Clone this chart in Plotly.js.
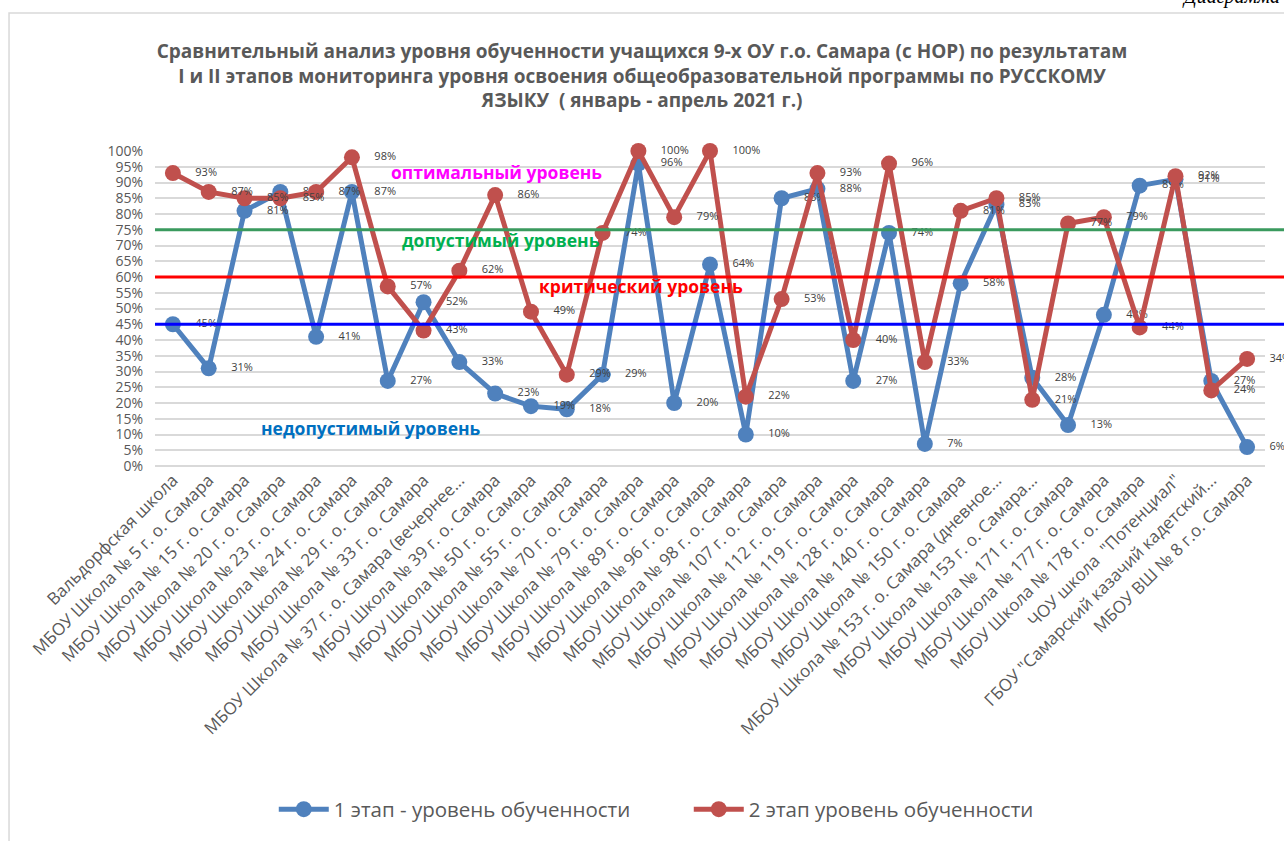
<!DOCTYPE html>
<html>
<head>
<meta charset="utf-8">
<script src="https://cdn.plot.ly/plotly-3.0.1.min.js"></script>
<style>
  html, body { margin: 0; padding: 0; background: #fff; }
  #chart { width: 1284px; height: 841px; }
</style>
</head>
<body>
<div id="chart"></div>
<script>
const categories = [
  "Вальдорфская школа",
  "МБОУ Школа № 5 г. о. Самара",
  "МБОУ Школа № 15 г. о. Самара",
  "МБОУ Школа № 20 г. о. Самара",
  "МБОУ Школа № 23 г. о. Самара",
  "МБОУ Школа № 24 г. о. Самара",
  "МБОУ Школа № 29 г. о. Самара",
  "МБОУ Школа № 33 г. о. Самара",
  "МБОУ Школа № 37 г. о. Самара (вечернее...",
  "МБОУ Школа № 39 г. о. Самара",
  "МБОУ Школа № 50 г. о. Самара",
  "МБОУ Школа № 55 г. о. Самара",
  "МБОУ Школа № 70 г. о. Самара",
  "МБОУ Школа № 79 г. о. Самара",
  "МБОУ Школа № 89 г. о. Самара",
  "МБОУ Школа № 96 г. о. Самара",
  "МБОУ Школа № 98 г. о. Самара",
  "МБОУ Школа № 107 г. о. Самара",
  "МБОУ Школа № 112 г. о. Самара",
  "МБОУ Школа № 119 г. о. Самара",
  "МБОУ Школа № 128 г. о. Самара",
  "МБОУ Школа № 140 г. о. Самара",
  "МБОУ Школа № 150 г. о. Самара",
  "МБОУ Школа № 153 г. о. Самара (дневное...",
  "МБОУ Школа № 153 г. о. Самара...",
  "МБОУ Школа № 171 г. о. Самара",
  "МБОУ Школа № 177 г. о. Самара",
  "МБОУ Школа № 178 г. о. Самара",
  "ЧОУ школа  \"Потенциал\"",
  "ГБОУ \"Самарский казачий кадетский...",
  "МБОУ ВШ № 8 г.о. Самара"
];

const stage1 = [45, 31, 81, 87, 41, 87, 27, 52, 33, 23, 19, 18, 29, 96, 20, 64, 10, 85, 88, 27, 74, 7, 58, 83, 28, 13, 48, 89, 91, 27, 6];
const stage2 = [93, 87, 85, 85, 87, 98, 57, 43, 62, 86, 49, 29, 74, 100, 79, 100, 22, 53, 93, 40, 96, 33, 81, 85, 21, 77, 79, 44, 92, 24, 34];

const seriesNames = ["1 этап - уровень обученности", "2 этап уровень обученности"];
const seriesColors = ["#4F81BD", "#C0504D"];

const thresholds = [
  { value: 75, color: "#3A9A5E", label: "допустимый уровень", labelColor: "#00B050", lx: 0.312, ly: 71.7 },
  { value: 60, color: "#FF0000", label: "критический уровень", labelColor: "#FF0000", lx: 0.438, ly: 57.1 },
  { value: 45, color: "#0000FF", label: "недопустимый уровень", labelColor: "#0070C0", lx: 0.195, ly: 12.1 }
];
const topLabel = { label: "оптимальный уровень", labelColor: "#FF00FF", lx: 0.308, ly: 93.3 };

const titleLines = [
  "Сравнительный анализ уровня обученности учащихся 9-х ОУ г.о. Самара (с НОР) по результатам",
  "I и II этапов мониторинга уровня освоения общеобразовательной программы по РУССКОМУ",
  "ЯЗЫКУ  ( январь - апрель 2021 г.)"
];

const FONT = "Open Sans, Noto Sans, DejaVu Sans, sans-serif";

function makeTrace(vals, i) {
  return {
    type: "scatter",
    mode: "lines+markers+text",
    x: categories,
    y: vals,
    name: seriesNames[i],
    line: { color: seriesColors[i], width: 5 },
    marker: { color: seriesColors[i], size: 16 },
    text: vals.map(v => "    " + v + "%"),
    textposition: "middle right",
    textfont: { family: FONT, size: 11, color: "#404040" },
    cliponaxis: false,
    hoverinfo: "x+y"
  };
}

const data = [makeTrace(stage1, 0), makeTrace(stage2, 1)];

const shapes = thresholds.map(t => ({
  type: "line", xref: "paper", yref: "y",
  x0: 0, x1: 1.05, y0: t.value, y1: t.value,
  line: { color: t.color, width: 3 }, layer: "above"
}));
// outer chart frame
shapes.push({
  type: "rect", xref: "paper", yref: "paper",
  x0: -0.1315, x1: 1.2, y0: -1.3, y1: 1.438,
  line: { color: "#D9D9D9", width: 1.5 }, layer: "below"
});

const annotations = [topLabel].concat(thresholds).map(t => ({
  xref: "paper", yref: "y", x: t.lx, y: t.ly,
  text: "<b>" + t.label + "</b>", showarrow: false,
  font: { family: FONT, size: 17.5, color: t.labelColor },
  xanchor: "center", yanchor: "middle"
}));
annotations.push({
  xref: "paper", yref: "paper", x: 1.0153, y: 1.49,
  text: "<i>Диаграмма</i>", showarrow: false,
  font: { family: "Liberation Serif, DejaVu Serif, serif", size: 20, color: "#000" },
  xanchor: "right", yanchor: "middle"
});

const layout = {
  width: 1284, height: 841,
  paper_bgcolor: "#fff", plot_bgcolor: "#fff",
  margin: { l: 155, r: 19, t: 151, b: 375 },
  title: {
    text: "<b>" + titleLines.join("<br>") + "</b>",
    font: { family: FONT, size: 19, color: "#595959" },
    x: 0.5, xref: "container", xanchor: "center",
    y: 1 - 58 / 841, yref: "container", yanchor: "middle"
  },
  xaxis: {
    type: "category", range: [-0.5, 30.5],
    tickangle: -45, showgrid: false, showline: false, ticks: "",
    tickfont: { family: FONT, size: 17, color: "#595959" },
    automargin: false, fixedrange: true
  },
  yaxis: {
    range: [0, 100], dtick: 5, ticksuffix: "%",
    showgrid: true, gridcolor: "#D9D9D9", gridwidth: 2,
    zeroline: true, zerolinecolor: "#D9D9D9", zerolinewidth: 2,
    showline: false, ticks: "", ticklabelstandoff: 11,
    tickfont: { family: FONT, size: 14, color: "#595959" },
    automargin: false, fixedrange: true
  },
  showlegend: true,
  legend: {
    orientation: "h", x: 0.107, xanchor: "left", xref: "paper",
    y: -1.09, yanchor: "middle",
    font: { family: FONT, size: 20.5, color: "#595959" },
    itemwidth: 50, entrywidth: 350, entrywidthmode: "pixels"
  },
  shapes: shapes,
  annotations: annotations
};

Plotly.newPlot("chart", data, layout, { displayModeBar: false, staticPlot: true });
</script>
</body>
</html>
